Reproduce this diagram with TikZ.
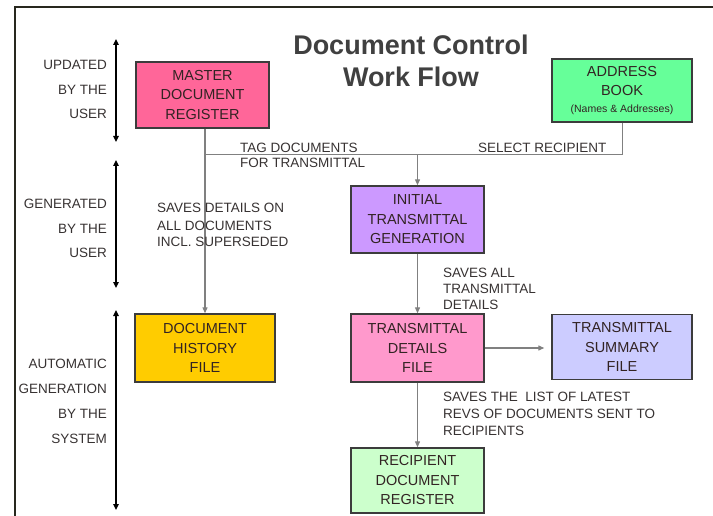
\documentclass[tikz,border=0pt]{standalone}
\usepackage{xcolor}
\usepackage{fontspec}
\setmainfont{Liberation Sans}
\usepackage{tikz}
\usetikzlibrary{shapes, arrows.meta, positioning}

\definecolor{masterpink}{RGB}{255,102,153}
\definecolor{addrgreen}{RGB}{102,255,153}
\definecolor{initlilac}{RGB}{204,153,255}
\definecolor{histgold}{RGB}{255,204,0}
\definecolor{detailpink}{RGB}{255,153,204}
\definecolor{summblue}{RGB}{204,204,255}
\definecolor{recipgreen}{RGB}{204,255,204}
\definecolor{boxline}{RGB}{60,60,60}
\definecolor{boxtext}{RGB}{50,35,35}
\definecolor{flowgray}{RGB}{128,128,128}
\definecolor{notetext}{RGB}{55,50,50}
\definecolor{titlegray}{RGB}{64,64,64}
\definecolor{framecol}{RGB}{40,40,30}

\begin{document}
\begin{tikzpicture}[x=1pt, y=-1pt,
    box/.style={draw=boxline, line width=1.4pt, rectangle, minimum width=133pt, minimum height=66pt,
        align=center, text=boxtext, inner sep=0pt, font=\fontsize{14.5}{19.5}\selectfont},
    flow/.style={draw=flowgray, line width=1.2pt, -{Triangle[length=6pt,width=5pt]}},
    link/.style={draw=flowgray, line width=1pt},
    stage/.style={draw=black, line width=1.4pt, {Triangle[length=6pt,width=5.5pt]}-{Triangle[length=6pt,width=5.5pt]}},
    note/.style={align=left, anchor=base west, inner sep=0pt, text=notetext, font=\fontsize{13.5}{17}\selectfont},
    side/.style={align=right, anchor=base east, inner sep=0pt, text=notetext, font=\fontsize{13.5}{24.5}\selectfont}]

    \useasboundingbox (0,0) rectangle (713,516);
    % frame
    \draw[framecol, line width=1.5pt] (15,516) -- (15,7) -- (713,7);

    % title
    \node[anchor=base, align=center, text=titlegray, font=\bfseries\fontsize{27}{32}\selectfont] (title) at (411,87)
        {Document Control\\Work Flow};

    % boxes
    \node[box, fill=masterpink] (master) at (202.5,95) {MASTER\\DOCUMENT\\REGISTER};
    \node[box, fill=addrgreen, minimum width=140pt, minimum height=63pt] (addrbook) at (622,90.5)
        {ADDRESS\\BOOK\\[-3pt]{\fontsize{10.5}{12}\selectfont(Names \& Addresses)}};
    \node[box, fill=initlilac, minimum height=67pt] (initial) at (417.5,219.5) {INITIAL\\TRANSMITTAL\\GENERATION};
    \node[box, fill=histgold, minimum width=140pt, minimum height=68pt] (history) at (205,348) {DOCUMENT\\HISTORY\\FILE};
    \node[box, fill=detailpink, minimum height=68pt] (details) at (417.5,348) {TRANSMITTAL\\DETAILS\\FILE};
    \node[box, fill=summblue, minimum width=140pt, minimum height=65pt] (summary) at (622,347) {TRANSMITTAL\\SUMMARY\\FILE};
    \node[box, fill=recipgreen, minimum height=65pt] (recipient) at (417.5,480.5) {RECIPIENT\\DOCUMENT\\REGISTER};

    % connectors
    \coordinate (tagjoin) at (205,155);
    \draw[flow] (master.south -| history.north) -- (history.north);
    \draw[link] (addrbook.south) |- (tagjoin);
    \draw[flow] (initial.north |- tagjoin) -- (initial.north);
    \draw[flow] (initial.south) -- (details.north);
    \draw[flow, shorten >=7pt] (details.east) -- (summary.west |- details.east);
    \draw[flow] (details.south) -- (recipient.north);

    % notes
    \node[note, font=\fontsize{13.5}{15}\selectfont] (tagnote) at (240,168) {TAG DOCUMENTS\\FOR TRANSMITTAL};
    \node[note] (selnote) at (478,153) {SELECT RECIPIENT};
    \node[note] (histnote) at (157,247) {SAVES DETAILS ON\\ALL DOCUMENTS\\INCL. SUPERSEDED};
    \node[note, font=\fontsize{13.5}{16}\selectfont] (detnote) at (443,309) {SAVES ALL\\TRANSMITTAL\\DETAILS};
    \node[note] (recnote) at (443,435) {SAVES THE\ \ LIST OF LATEST\\REVS OF DOCUMENTS SENT TO\\RECIPIENTS};

    % stages on the left
    \node[side] (userupd) at (107,119) {UPDATED\\BY THE\\USER};
    \node[side] (usergen) at (107,258) {GENERATED\\BY THE\\USER};
    \node[side, font=\fontsize{13.5}{25}\selectfont] (sysgen) at (107,443) {AUTOMATIC\\GENERATION\\BY THE\\SYSTEM};
    \coordinate (updtop) at (116,39);
    \coordinate (updbot) at (116,142);
    \coordinate (gentop) at (116,160);
    \coordinate (genbot) at (116,288);
    \coordinate (systop) at (116,310);
    \coordinate (sysbot) at (116,510);
    \draw[stage] (updtop) -- (updbot);
    \draw[stage] (gentop) -- (genbot);
    \draw[stage] (systop) -- (sysbot);
\end{tikzpicture}
\end{document}
